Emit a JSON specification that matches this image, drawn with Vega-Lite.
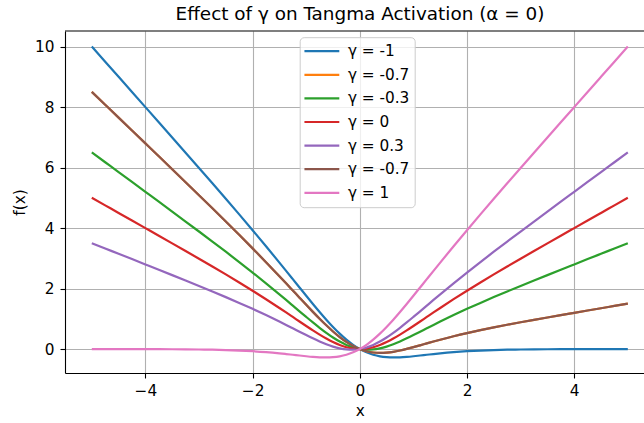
{
  "$schema": "https://vega.github.io/schema/vega-lite/v6.json",
  "width": 579,
  "height": 342,
  "autosize": {"type": "none"},
  "padding": {"left": 65, "top": 31, "right": 0, "bottom": 50},
  "background": "white",
  "title": {"text": "Effect of γ on Tangma Activation (α = 0)", "fontSize": 18.4, "font": "DejaVu Sans", "fontWeight": "normal", "color": "black", "anchor": "middle", "dx": 5.5, "dy": 18, "baseline": "alphabetic", "offset": 10},
  "config": {"view": {"stroke": null}, "font": "DejaVu Sans"},
  "layer": [
    {
      "data": {"values": [
        {"x": -5, "a": 9.9996, "b": 8.4996, "c": 6.4996, "d": 4.9996, "e": 3.4996, "f": 8.4996, "g": -0.0005},
        {"x": -4.75, "a": 9.4993, "b": 8.0743, "c": 6.1743, "d": 4.7493, "e": 3.3243, "f": 8.0743, "g": -0.0007},
        {"x": -4.5, "a": 8.9989, "b": 7.6489, "c": 5.8489, "d": 4.4989, "e": 3.1489, "f": 7.6489, "g": -0.0011},
        {"x": -4.25, "a": 8.4983, "b": 7.2233, "c": 5.5233, "d": 4.2483, "e": 2.9733, "f": 7.2233, "g": -0.0017},
        {"x": -4, "a": 7.9973, "b": 6.7973, "c": 5.1973, "d": 3.9973, "e": 2.7973, "f": 6.7973, "g": -0.0027},
        {"x": -3.75, "a": 7.4959, "b": 6.3709, "c": 4.8709, "d": 3.7459, "e": 2.6209, "f": 6.3709, "g": -0.0042},
        {"x": -3.5, "a": 6.9936, "b": 5.9436, "c": 4.5436, "d": 3.4936, "e": 2.4436, "f": 5.9436, "g": -0.0064},
        {"x": -3.25, "a": 6.4902, "b": 5.5152, "c": 4.2152, "d": 3.2402, "e": 2.2652, "f": 5.5152, "g": -0.0098},
        {"x": -3, "a": 5.9852, "b": 5.0852, "c": 3.8852, "d": 2.9852, "e": 2.0852, "f": 5.0852, "g": -0.0148},
        {"x": -2.75, "a": 5.4776, "b": 4.6526, "c": 3.5526, "d": 2.7276, "e": 1.9026, "f": 4.6526, "g": -0.0224},
        {"x": -2.5, "a": 4.9665, "b": 4.2165, "c": 3.2165, "d": 2.4665, "e": 1.7165, "f": 4.2165, "g": -0.0335},
        {"x": -2.25, "a": 4.4506, "b": 3.7756, "c": 2.8756, "d": 2.2006, "e": 1.5256, "f": 3.7756, "g": -0.0494},
        {"x": -2, "a": 3.9281, "b": 3.3281, "c": 2.5281, "d": 1.9281, "e": 1.3281, "f": 3.3281, "g": -0.0719},
        {"x": -1.75, "a": 3.3974, "b": 2.8724, "c": 2.1724, "d": 1.6474, "e": 1.1224, "f": 2.8724, "g": -0.1026},
        {"x": -1.5, "a": 2.8577, "b": 2.4077, "c": 1.8077, "d": 1.3577, "e": 0.9077, "f": 2.4077, "g": -0.1423},
        {"x": -1.375, "a": 2.5848, "b": 2.1723, "c": 1.6223, "d": 1.2098, "e": 0.7973, "f": 2.1723, "g": -0.1652},
        {"x": -1.25, "a": 2.3104, "b": 1.9354, "c": 1.4354, "d": 1.0604, "e": 0.6854, "f": 1.9354, "g": -0.1896},
        {"x": -1.125, "a": 2.0355, "b": 1.698, "c": 1.248, "d": 0.9105, "e": 0.573, "f": 1.698, "g": -0.2145},
        {"x": -1, "a": 1.7616, "b": 1.4616, "c": 1.0616, "d": 0.7616, "e": 0.4616, "f": 1.4616, "g": -0.2384},
        {"x": -0.875, "a": 1.4909, "b": 1.2284, "c": 0.8784, "d": 0.6159, "e": 0.3534, "f": 1.2284, "g": -0.2591},
        {"x": -0.75, "a": 1.2264, "b": 1.0014, "c": 0.7014, "d": 0.4764, "e": 0.2514, "f": 1.0014, "g": -0.2736},
        {"x": -0.625, "a": 0.9716, "b": 0.7841, "c": 0.5341, "d": 0.3466, "e": 0.1591, "f": 0.7841, "g": -0.2784},
        {"x": -0.5, "a": 0.7311, "b": 0.5811, "c": 0.3811, "d": 0.2311, "e": 0.0811, "f": 0.5811, "g": -0.2689},
        {"x": -0.375, "a": 0.5094, "b": 0.3969, "c": 0.2469, "d": 0.1344, "e": 0.0219, "f": 0.3969, "g": -0.2406},
        {"x": -0.25, "a": 0.3112, "b": 0.2362, "c": 0.1362, "d": 0.0612, "e": -0.0138, "f": 0.2362, "g": -0.1888},
        {"x": -0.125, "a": 0.1405, "b": 0.103, "c": 0.053, "d": 0.0155, "e": -0.022, "f": 0.103, "g": -0.1095},
        {"x": 0, "a": 0, "b": 0, "c": 0, "d": 0, "e": 0, "f": 0, "g": 0},
        {"x": 0.125, "a": -0.1095, "b": -0.072, "c": -0.022, "d": 0.0155, "e": 0.053, "f": -0.072, "g": 0.1405},
        {"x": 0.25, "a": -0.1888, "b": -0.1138, "c": -0.0138, "d": 0.0612, "e": 0.1362, "f": -0.1138, "g": 0.3112},
        {"x": 0.375, "a": -0.2406, "b": -0.1281, "c": 0.0219, "d": 0.1344, "e": 0.2469, "f": -0.1281, "g": 0.5094},
        {"x": 0.5, "a": -0.2689, "b": -0.1189, "c": 0.0811, "d": 0.2311, "e": 0.3811, "f": -0.1189, "g": 0.7311},
        {"x": 0.625, "a": -0.2784, "b": -0.0909, "c": 0.1591, "d": 0.3466, "e": 0.5341, "f": -0.0909, "g": 0.9716},
        {"x": 0.75, "a": -0.2736, "b": -0.0486, "c": 0.2514, "d": 0.4764, "e": 0.7014, "f": -0.0486, "g": 1.2264},
        {"x": 0.875, "a": -0.2591, "b": 0.0034, "c": 0.3534, "d": 0.6159, "e": 0.8784, "f": 0.0034, "g": 1.4909},
        {"x": 1, "a": -0.2384, "b": 0.0616, "c": 0.4616, "d": 0.7616, "e": 1.0616, "f": 0.0616, "g": 1.7616},
        {"x": 1.125, "a": -0.2145, "b": 0.123, "c": 0.573, "d": 0.9105, "e": 1.248, "f": 0.123, "g": 2.0355},
        {"x": 1.25, "a": -0.1896, "b": 0.1854, "c": 0.6854, "d": 1.0604, "e": 1.4354, "f": 0.1854, "g": 2.3104},
        {"x": 1.375, "a": -0.1652, "b": 0.2473, "c": 0.7973, "d": 1.2098, "e": 1.6223, "f": 0.2473, "g": 2.5848},
        {"x": 1.5, "a": -0.1423, "b": 0.3077, "c": 0.9077, "d": 1.3577, "e": 1.8077, "f": 0.3077, "g": 2.8577},
        {"x": 1.75, "a": -0.1026, "b": 0.4224, "c": 1.1224, "d": 1.6474, "e": 2.1724, "f": 0.4224, "g": 3.3974},
        {"x": 2, "a": -0.0719, "b": 0.5281, "c": 1.3281, "d": 1.9281, "e": 2.5281, "f": 0.5281, "g": 3.9281},
        {"x": 2.25, "a": -0.0494, "b": 0.6256, "c": 1.5256, "d": 2.2006, "e": 2.8756, "f": 0.6256, "g": 4.4506},
        {"x": 2.5, "a": -0.0335, "b": 0.7165, "c": 1.7165, "d": 2.4665, "e": 3.2165, "f": 0.7165, "g": 4.9665},
        {"x": 2.75, "a": -0.0224, "b": 0.8026, "c": 1.9026, "d": 2.7276, "e": 3.5526, "f": 0.8026, "g": 5.4776},
        {"x": 3, "a": -0.0148, "b": 0.8852, "c": 2.0852, "d": 2.9852, "e": 3.8852, "f": 0.8852, "g": 5.9852},
        {"x": 3.25, "a": -0.0098, "b": 0.9652, "c": 2.2652, "d": 3.2402, "e": 4.2152, "f": 0.9652, "g": 6.4902},
        {"x": 3.5, "a": -0.0064, "b": 1.0436, "c": 2.4436, "d": 3.4936, "e": 4.5436, "f": 1.0436, "g": 6.9936},
        {"x": 3.75, "a": -0.0042, "b": 1.1209, "c": 2.6209, "d": 3.7459, "e": 4.8709, "f": 1.1209, "g": 7.4959},
        {"x": 4, "a": -0.0027, "b": 1.1973, "c": 2.7973, "d": 3.9973, "e": 5.1973, "f": 1.1973, "g": 7.9973},
        {"x": 4.25, "a": -0.0017, "b": 1.2733, "c": 2.9733, "d": 4.2483, "e": 5.5233, "f": 1.2733, "g": 8.4983},
        {"x": 4.5, "a": -0.0011, "b": 1.3489, "c": 3.1489, "d": 4.4989, "e": 5.8489, "f": 1.3489, "g": 8.9989},
        {"x": 4.75, "a": -0.0007, "b": 1.4243, "c": 3.3243, "d": 4.7493, "e": 6.1743, "f": 1.4243, "g": 9.4993},
        {"x": 5, "a": -0.0005, "b": 1.4996, "c": 3.4996, "d": 4.9996, "e": 6.4996, "f": 1.4996, "g": 9.9996}
      ]},
      "transform": [{"fold": ["a", "b", "c", "d", "e", "f", "g"], "as": ["s", "y"]}],
      "mark": {"type": "line", "strokeWidth": 2.2, "interpolate": "monotone"},
      "encoding": {
        "x": {
          "field": "x", "type": "quantitative",
          "scale": {"domain": [-5.5, 5.302], "nice": false, "zero": false},
          "axis": {"title": "x", "values": [-4, -2, 0, 2, 4], "grid": true, "gridColor": "#b0b0b0", "gridWidth": 1.1, "domainColor": "black", "domainWidth": 1.1, "tickColor": "black", "tickWidth": 1.1, "tickSize": 5, "labelFont": "DejaVu Sans", "labelFontSize": 15.3, "labelColor": "black", "labelPadding": 5, "labelFlush": false, "titleFont": "DejaVu Sans", "titleFontSize": 15.3, "titleFontWeight": "normal", "titleColor": "black", "titleX": 294.8, "titleY": 42, "titleBaseline": "alphabetic"}
        },
        "y": {
          "field": "y", "type": "quantitative",
          "scale": {"domain": [-0.792, 10.513], "nice": false, "zero": false},
          "axis": {"title": "f(x)", "values": [0, 2, 4, 6, 8, 10], "grid": true, "gridColor": "#b0b0b0", "gridWidth": 1.1, "domainColor": "black", "domainWidth": 1.1, "tickColor": "black", "tickWidth": 1.1, "tickSize": 5, "labelFont": "DejaVu Sans", "labelFontSize": 15.3, "labelColor": "black", "labelPadding": 6, "titleFont": "DejaVu Sans", "titleFontSize": 15.3, "titleFontWeight": "normal", "titleColor": "black", "titleX": -41, "titleY": 171, "titleBaseline": "alphabetic", "titleAlign": "center"}
        },
        "color": {
          "field": "s", "type": "nominal",
          "scale": {"domain": ["a", "b", "c", "d", "e", "f", "g"], "range": ["#1f77b4", "#ff7f0e", "#2ca02c", "#d62728", "#9467bd", "#8c564b", "#e377c2"]},
          "legend": {"orient": "none", "legendX": 234.7, "legendY": 6.2, "title": null, "symbolType": "stroke", "symbolSize": 1225, "symbolStrokeWidth": 2.2, "symbolOffset": -1.4, "labelOffset": 7.1, "labelFontSize": 15.3, "labelFont": "DejaVu Sans", "labelColor": "black", "clipHeight": 19, "rowPadding": 4.6, "padding": 4.5, "fillColor": "rgba(255,255,255,0.8)", "strokeColor": "#cccccc", "cornerRadius": 4,
            "labelExpr": "['γ = -1','γ = -0.7','γ = -0.3','γ = 0','γ = 0.3','γ = -0.7','γ = 1'][indexof(['a','b','c','d','e','f','g'], datum.value)]"}
        }
      }
    },
    {
      "data": {"values": [{"edge": "top"}]},
      "mark": {"type": "rule", "color": "black", "strokeWidth": 1.1},
      "encoding": {"y": {"datum": 10.513, "type": "quantitative"}}
    }
  ]
}
